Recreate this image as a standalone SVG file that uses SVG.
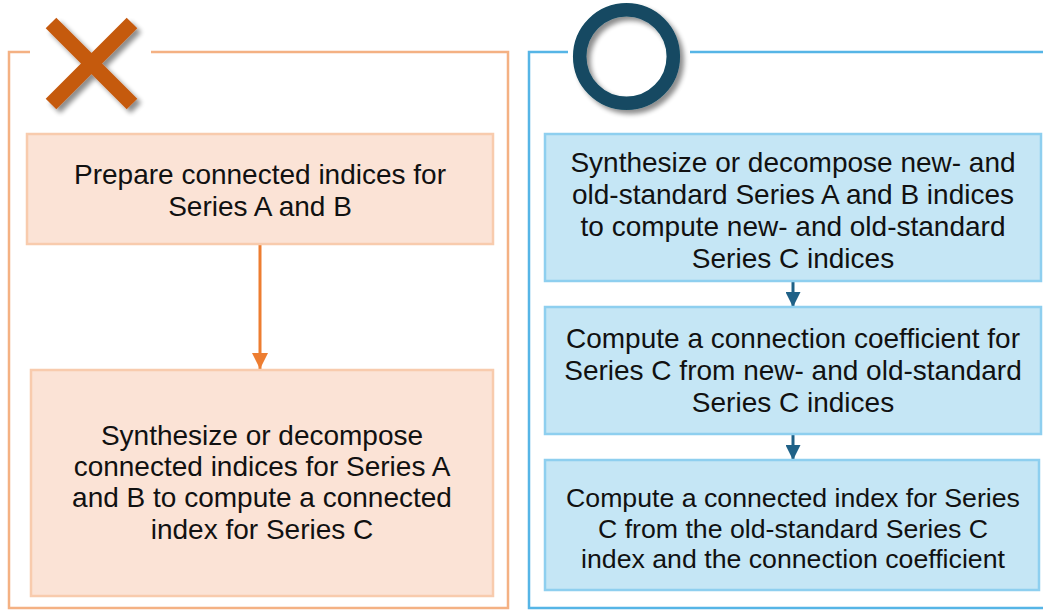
<svg xmlns="http://www.w3.org/2000/svg" width="1043" height="610" viewBox="0 0 1043 610">
<defs>
<filter id="sh" x="-30%" y="-30%" width="160%" height="160%">
<feGaussianBlur in="SourceAlpha" stdDeviation="2.5"/>
<feOffset dx="4" dy="4" result="b"/>
<feComponentTransfer><feFuncA type="linear" slope="0.45"/></feComponentTransfer>
<feMerge><feMergeNode/><feMergeNode in="SourceGraphic"/></feMerge>
</filter>
<marker id="ao" viewBox="0 0 10 10" refX="10" refY="5" markerWidth="5.5" markerHeight="5.5" orient="auto" markerUnits="strokeWidth"><path d="M0,0 L10,5 L0,10 z" fill="#ED7D31"/></marker>
<marker id="ab" viewBox="0 0 10 10" refX="10" refY="5" markerWidth="5" markerHeight="5" orient="auto" markerUnits="strokeWidth"><path d="M0,0 L10,5 L0,10 z" fill="#1F6187"/></marker>
</defs>
<style>
.t{font-family:"Liberation Sans",Arial,sans-serif;font-size:28px;fill:#111;text-anchor:middle}
.s{font-size:26.7px}
.ob{fill:#FBE3D6;stroke:#F8CBAD;stroke-width:2.5}
.bb{fill:#C5E6F5;stroke:#8ECFEF;stroke-width:2.5}
.of{fill:none;stroke:#F4B183;stroke-width:2.5}
.bf{fill:none;stroke:#56B5E6;stroke-width:2.5}
</style>
<rect width="1043" height="610" fill="#fff"/>
<g id="left-frame">
<path class="of" d="M30,52 H9 V608 H508 V52 H151"/>
<g filter="url(#sh)">
<path d="M51,23 L132,104 M132,23 L51,104" stroke="#C55A11" stroke-width="15" fill="none"/>
</g>
</g>
<g id="right-frame">
<path class="bf" d="M568,52 H529 V608 H1045 M1045,52 H690"/>
<g filter="url(#sh)">
<circle cx="626.5" cy="56.5" r="46.8" fill="none" stroke="#134A62" stroke-width="13.5"/>
</g>
</g>
<g id="connectors">
<line x1="260" y1="244" x2="260" y2="369" stroke="#ED7D31" stroke-width="3" marker-end="url(#ao)"/>
<line x1="793" y1="282" x2="793" y2="307" stroke="#1F6187" stroke-width="3" marker-end="url(#ab)"/>
<line x1="793" y1="435" x2="793" y2="460" stroke="#1F6187" stroke-width="3" marker-end="url(#ab)"/>
</g>
<g id="node-l1">
<rect class="ob" x="27" y="134" width="466" height="110"/>
<text class="t" x="260" y="184">Prepare connected indices for</text>
<text class="t" x="260" y="216">Series A and B</text>
</g>
<g id="node-l2">
<rect class="ob" x="31" y="370" width="462" height="226"/>
<text class="t" x="262" y="445">Synthesize or decompose</text>
<text class="t" x="262" y="476">connected indices for Series A</text>
<text class="t" x="262" y="507">and B to compute a connected</text>
<text class="t" x="262" y="539">index for Series C</text>
</g>
<g id="node-r1">
<rect class="bb" x="545" y="134" width="496" height="147"/>
<text class="t" x="793" y="172">Synthesize or decompose new- and</text>
<text class="t" x="793" y="204">old-standard Series A and B indices</text>
<text class="t" x="793" y="236">to compute new- and old-standard</text>
<text class="t" x="793" y="268">Series C indices</text>
</g>
<g id="node-r2">
<rect class="bb" x="545" y="307" width="496" height="127"/>
<text class="t" x="793" y="348">Compute a connection coefficient for</text>
<text class="t" x="793" y="380">Series C from new- and old-standard</text>
<text class="t" x="793" y="412">Series C indices</text>
</g>
<g id="node-r3">
<rect class="bb" x="545" y="460" width="494" height="130"/>
<text class="t s" x="793" y="507">Compute a connected index for Series</text>
<text class="t s" x="793" y="538">C from the old-standard Series C</text>
<text class="t s" x="793" y="568">index and the connection coefficient</text>
</g>
</svg>
